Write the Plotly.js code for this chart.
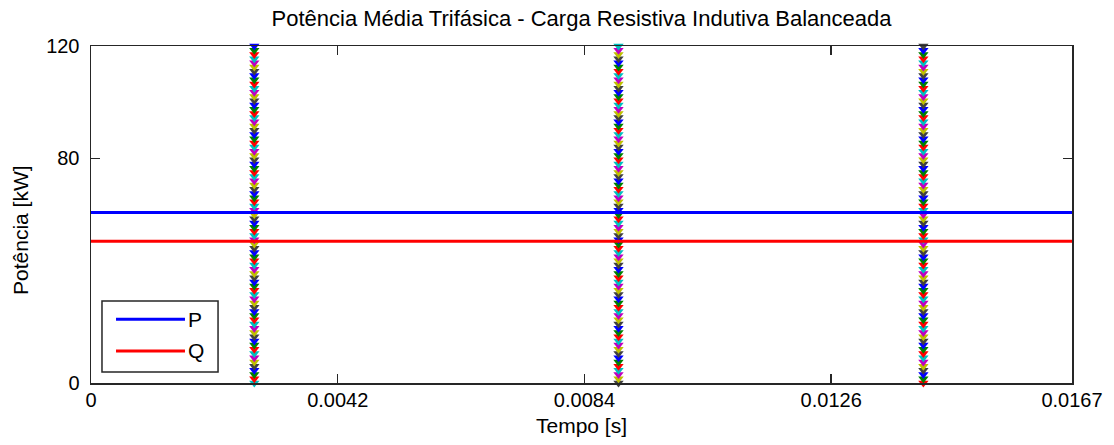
<!DOCTYPE html>
<html>
<head>
<meta charset="utf-8">
<script src="https://cdn.plot.ly/plotly-3.0.1.min.js"></script>
<style>
  html, body { margin: 0; padding: 0; background: #fff; }
  #chart { width: 1114px; height: 445px; }
</style>
</head>
<body>
<div id="chart"></div>
<script>
// Time window (s) and averaged three-phase power (kW)
var timeSpan = [0, 0.0167];
var activePowerP = [60.7, 60.7];
var reactivePowerQ = [50.5, 50.5];

// Switching instants marked by stacked triangle markers
var eventTimes = [0.00278, 0.00898, 0.01417];
var markerLevels = [0, 1.5, 3, 4.5, 6, 7.5, 9, 10.5, 12, 13.5, 15, 16.5, 18, 19.5, 21, 22.5,
  24, 25.5, 27, 28.5, 30, 31.5, 33, 34.5, 36, 37.5, 39, 40.5, 42, 43.5, 45, 46.5, 48, 49.5,
  51, 52.5, 54, 55.5, 57, 58.5, 60, 61.5, 63, 64.5, 66, 67.5, 69, 70.5, 72, 73.5, 75, 76.5,
  78, 79.5, 81, 82.5, 84, 85.5, 87, 88.5, 90, 91.5, 93, 94.5, 96, 97.5, 99, 100.5, 102,
  103.5, 105, 106.5, 108, 109.5, 111, 112.5, 114, 115.5, 117, 118.5, 120];
var markerPalette = ['#0000ff', '#008000', '#ff0000', '#00bfbf', '#bf00bf', '#bfbf00', '#404040'];

// Axis ticks
var xTickVals = [0, 0.0042, 0.0084, 0.0126, 0.0167];
var xTickText = ['0', '0.0042', '0.0084', '0.0126', '0.0167'];
var yTickVals = [0, 80, 120];
var yTickText = ['0', '80', '120'];

var traces = [];

eventTimes.forEach(function (t, k) {
  var xs = markerLevels.map(function () { return t; });
  var cols = markerLevels.map(function (_, i) {
    return markerPalette[(markerLevels.length - 1 - i + 3 * k) % markerPalette.length];
  });
  traces.push({
    x: xs, y: markerLevels, type: 'scatter', mode: 'markers',
    marker: { symbol: 'triangle-down', size: 9, color: cols, line: { width: 0 } },
    showlegend: false, hoverinfo: 'skip', cliponaxis: false
  });
});

traces.push({
  x: timeSpan, y: activePowerP, type: 'scatter', mode: 'lines', name: 'P',
  line: { color: '#0000ff', width: 3 }, showlegend: false
});
traces.push({
  x: timeSpan, y: reactivePowerQ, type: 'scatter', mode: 'lines', name: 'Q',
  line: { color: '#ff0000', width: 3 }, showlegend: false
});

var axisLine = '#262626';
var family = 'Liberation Sans, Arial, sans-serif';
var txt = function (size) { return { family: family, size: size, color: '#000' }; };

// Hand-built legend box in the lower-left corner of the plot area
var legendShapes = [
  { type: 'rect', xref: 'paper', yref: 'paper', x0: 0.0112, x1: 0.1295, y0: 0.0326, y1: 0.2433,
    line: { color: axisLine, width: 1.5 }, fillcolor: '#fff', layer: 'above' },
  { type: 'line', xref: 'paper', yref: 'paper', x0: 0.0255, x1: 0.0958, y0: 0.189, y1: 0.189,
    line: { color: '#0000ff', width: 3 }, layer: 'above' },
  { type: 'line', xref: 'paper', yref: 'paper', x0: 0.0255, x1: 0.0958, y0: 0.095, y1: 0.095,
    line: { color: '#ff0000', width: 3 }, layer: 'above' }
];
var annotations = [
  { xref: 'paper', yref: 'paper', x: 0.097, y: 0.189, text: 'P', showarrow: false,
    xanchor: 'left', yanchor: 'middle', font: txt(21) },
  { xref: 'paper', yref: 'paper', x: 0.097, y: 0.095, text: 'Q', showarrow: false,
    xanchor: 'left', yanchor: 'middle', font: txt(21) },
  // vertical axis label, placed beside the tick labels
  { xref: 'paper', yref: 'paper', x: -0.0724, y: 0.454, text: 'Potência [kW]', showarrow: false,
    textangle: -90, xanchor: 'center', yanchor: 'middle', font: txt(21) }
];

var layout = {
  width: 1114, height: 445,
  margin: { l: 91, r: 42, t: 46, b: 62 },
  paper_bgcolor: '#fff', plot_bgcolor: '#fff',
  font: txt(20),
  showlegend: false,
  title: {
    text: 'Potência Média Trifásica - Carga Resistiva Indutiva Balanceada',
    font: txt(22),
    x: 0.522, xanchor: 'center', y: 0.958, yanchor: 'middle'
  },
  xaxis: {
    range: timeSpan, showgrid: false, zeroline: false,
    showline: true, linecolor: axisLine, linewidth: 1.5, mirror: 'ticks',
    ticks: 'inside', ticklen: 9, tickwidth: 1.5, tickcolor: axisLine,
    tickvals: xTickVals, ticktext: xTickText, ticklabelstandoff: -2,
    tickfont: txt(20),
    title: { text: 'Tempo [s]', font: txt(21), standoff: 9 }
  },
  yaxis: {
    range: [0, 120], showgrid: false, zeroline: false,
    showline: true, linecolor: axisLine, linewidth: 1.5, mirror: 'ticks',
    ticks: 'inside', ticklen: 9, tickwidth: 1.5, tickcolor: axisLine,
    tickvals: yTickVals, ticktext: yTickText, ticklabelstandoff: 6,
    tickfont: txt(20)
  },
  shapes: legendShapes,
  annotations: annotations
};

Plotly.newPlot('chart', traces, layout, { displayModeBar: false, staticPlot: true });
</script>
</body>
</html>
